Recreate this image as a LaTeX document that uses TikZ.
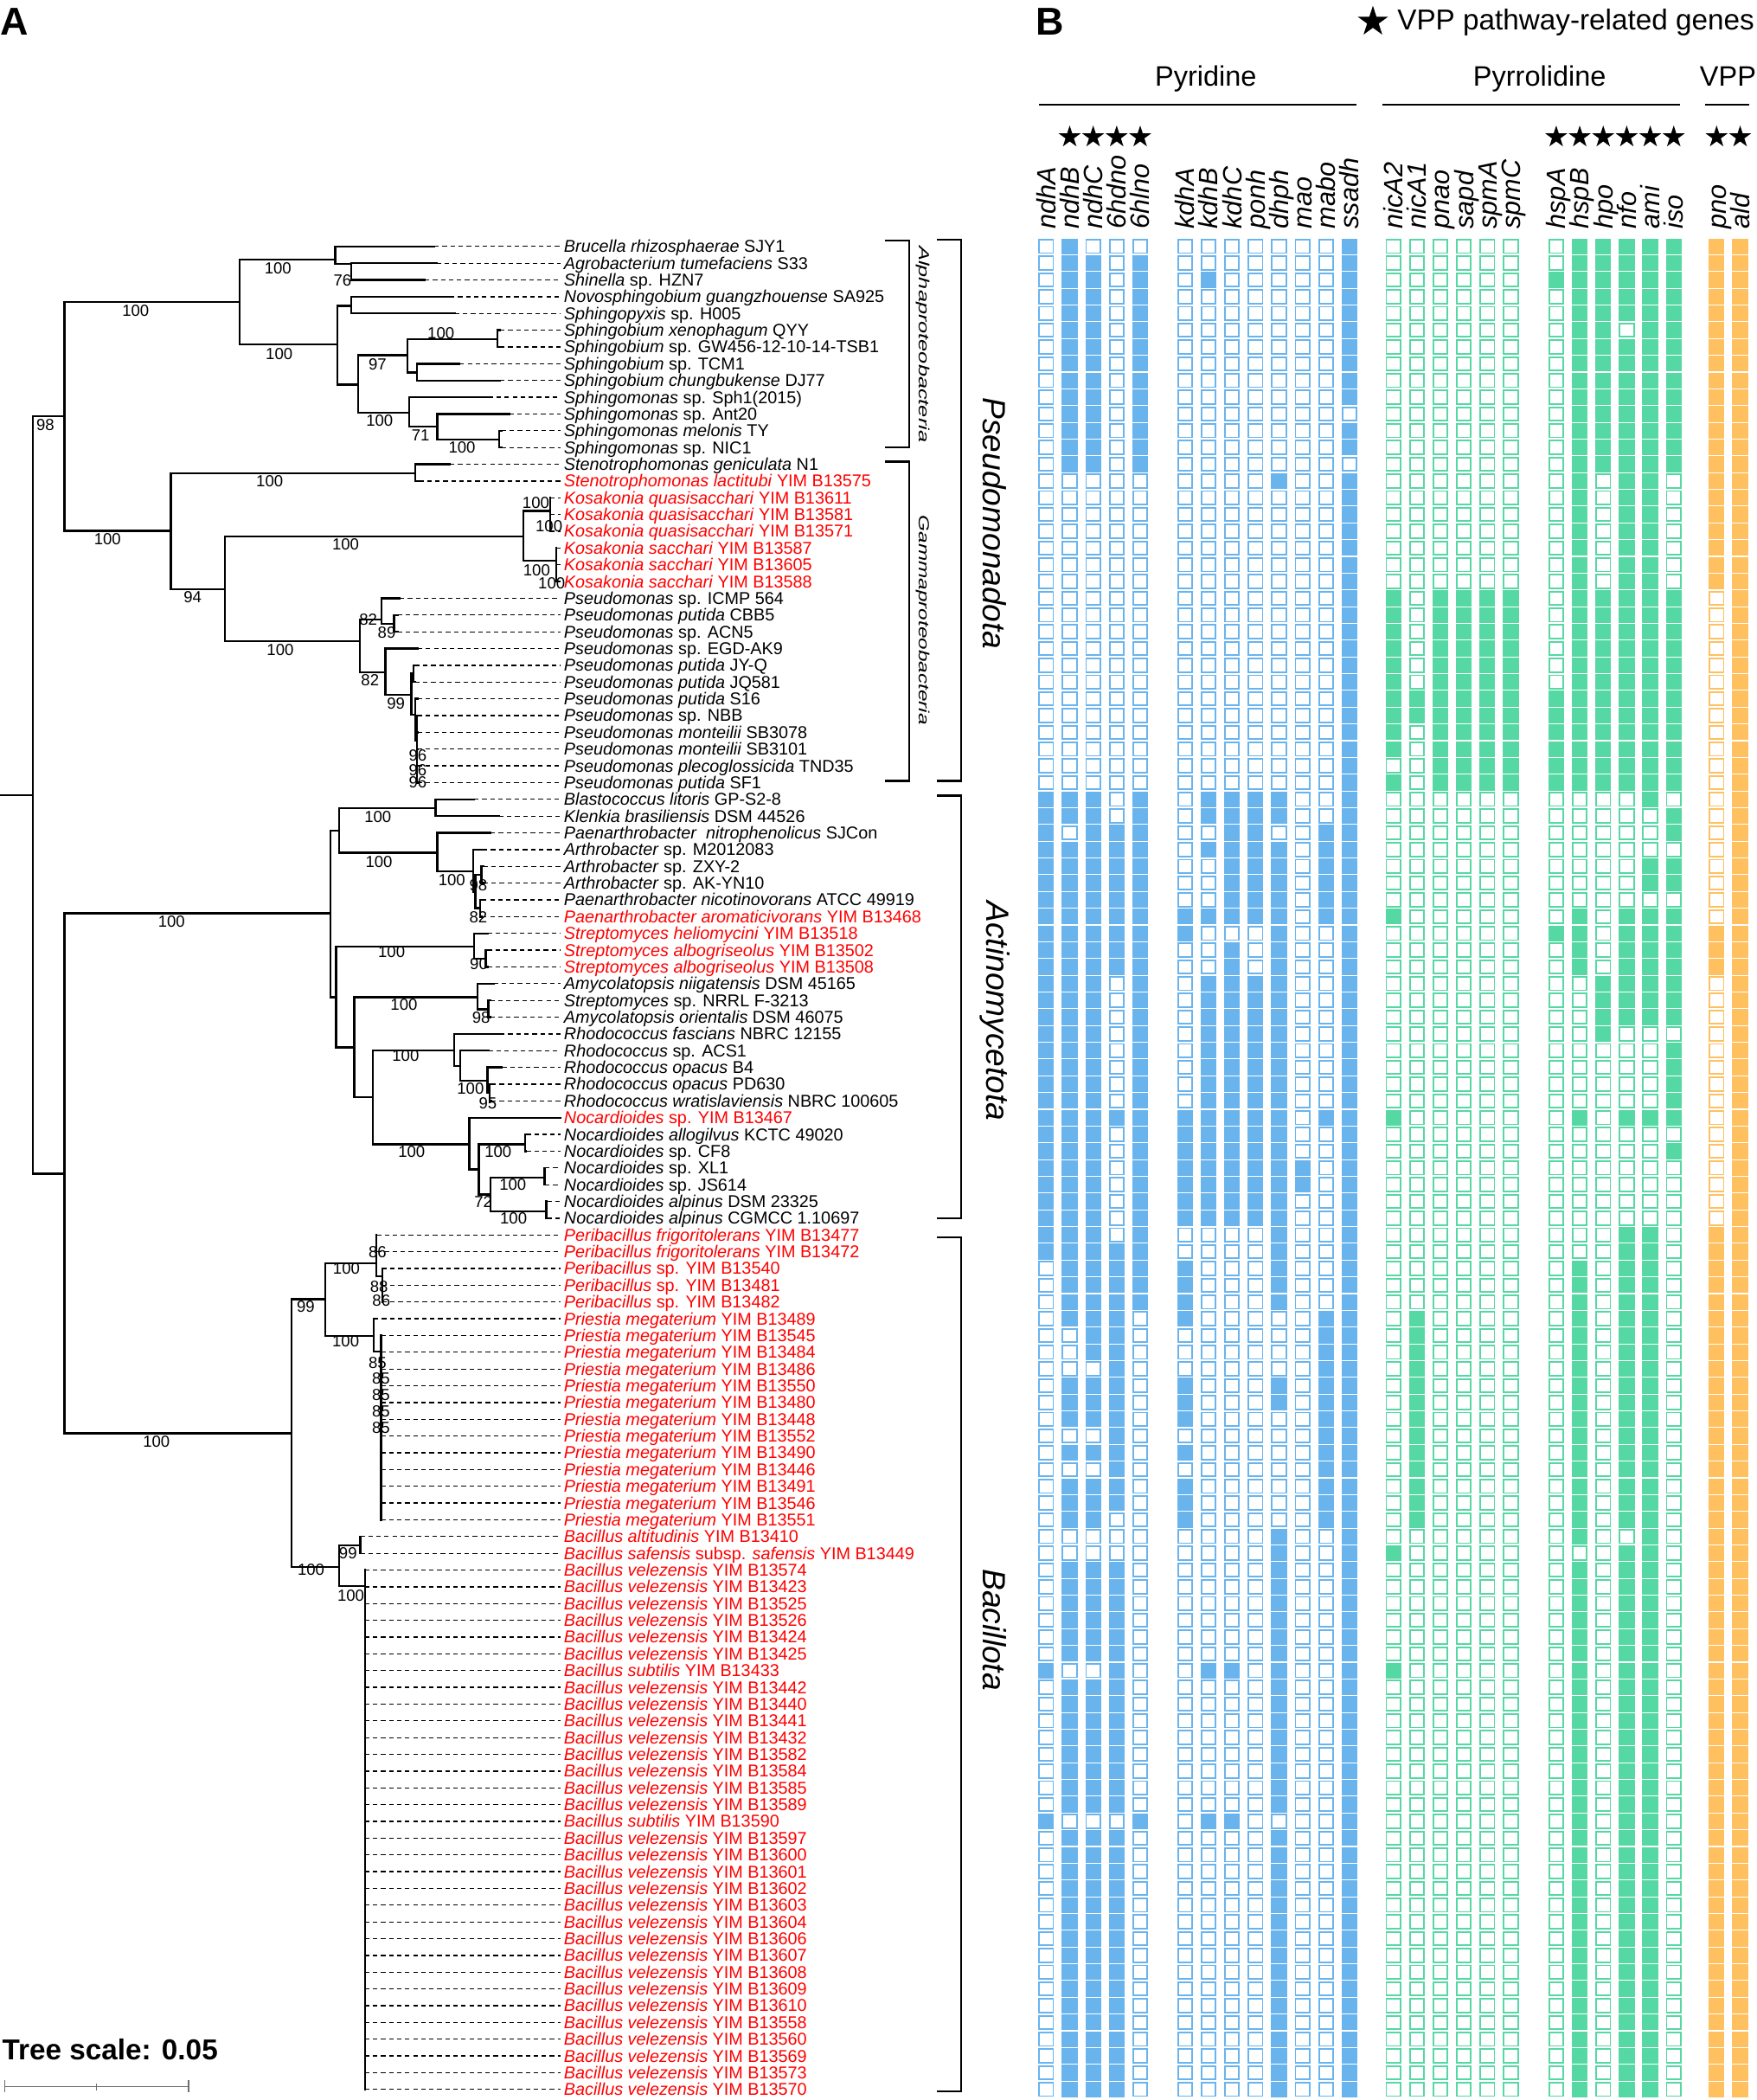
\documentclass[tikz,border=0pt]{standalone}
\usepackage{fontspec}
\setmainfont{Liberation Sans}
\usetikzlibrary{shapes.geometric}
\definecolor{hblue}{RGB}{106,180,238}
\definecolor{hgreen}{RGB}{86,216,164}
\definecolor{horange}{RGB}{255,192,96}
\definecolor{tred}{RGB}{255,0,0}
\definecolor{sgray}{RGB}{110,110,110}
\newcommand\RowY[1]{{184+(#1-1)*12.51}}
\newcommand\inode[5]{\draw[br] (#5,#4) -- (#1,#4); \draw[br] (#1,#2) -- (#1,#3);}
\newcommand\leaf[3]{\draw[br] (#2,\RowY{#1}) -- (#3,\RowY{#1}); \draw[dsh] (#3,\RowY{#1}) -- (418.5,\RowY{#1});}
\newcommand\tx[3][black]{\node[taxon,text=#1] (t#2) at (421,{184+(#2-1)*12.51+4.5}) {#3};}
\newcommand\hmcol[3]{%
  \foreach \rw in {1,...,111}{\draw[draw=#2,line width=1.2pt,fill=white] ({#1-5.3},{184+(\rw-1)*12.51-5.0}) rectangle ({#1+5.3},{184+(\rw-1)*12.51+5.0});}%
  \foreach \ra/\rb in {#3}{\foreach \rw in {\ra,...,\rb}{\fill[#2] ({#1-5.9},{184+(\rw-1)*12.51-5.9}) rectangle ({#1+5.9},{184+(\rw-1)*12.51+5.9});}}%
}
\begin{document}
\begin{tikzpicture}[x=1pt,y=-1pt,
  br/.style={line width=1.5pt,line cap=rect},
  dsh/.style={line width=0.8pt,dash pattern=on 3.4pt off 2.6pt},
  taxon/.style={anchor=base west,inner sep=0pt,font=\fontsize{12.8}{14}\selectfont},
  boot/.style={inner sep=0pt,font=\fontsize{12}{13}\selectfont},
  gene/.style={rotate=90,anchor=base west,inner sep=0pt,font=\fontsize{19.8}{20}\selectfont\itshape},
  hdr/.style={inner sep=0pt,font=\fontsize{21}{22}\selectfont},
  vstar/.style={star,star points=5,star point ratio=2.618,fill=black,draw=none,inner sep=0pt,minimum size=17.2pt},
  brk/.style={line width=1.4pt},
  grp/.style={line width=1.2pt},
  clade/.style={rotate=-90,inner sep=0pt,font=\fontsize{11}{11}\selectfont\itshape},
  phylum/.style={rotate=-90,inner sep=0pt,font=\fontsize{24}{24}\selectfont\itshape}]
\useasboundingbox (0,0) rectangle (1312,1568);

% ---------------- panel labels
\node[anchor=base west,inner sep=0pt,font=\fontsize{29}{30}\selectfont\bfseries] (pA) at (0,26) {A};
\node[anchor=base west,inner sep=0pt,font=\fontsize{29}{30}\selectfont\bfseries] (pB) at (773.5,26) {B};

% ---------------- tree
\draw[br] (0,593.6) -- (24.5,593.6);
\draw[br] (24.5,310.7) -- (24.5,876.4);
\inode{48.2}{225.6}{396.3}{310.7}{24.5}
\inode{178.8}{193.8}{257.1}{225.6}{48.2}
\inode{250.3}{184}{197.1}{193.8}{178.8}
\inode{262.4}{197.1}{209.02}{197.1}{250.3}
\inode{251.8}{228.3}{287.1}{257.1}{178.8}
\inode{262.4}{221.53}{234.04}{228.3}{251.8}
\inode{267.6}{265.3}{308.0}{287.1}{251.8}
\inode{304.3}{253.1}{278.1}{265.3}{267.6}
\inode{371.4}{246.55}{259.06}{253.1}{304.3}
\inode{311.5}{271.57}{284.08}{278.1}{304.3}
\inode{305.7}{296.59}{318.3}{308.0}{267.6}
\inode{326.5}{309.1}{328.4}{318.3}{305.7}
\inode{372.9}{321.61}{334.12}{328.4}{326.5}
\inode{127.5}{353.4}{439.9}{396.3}{48.2}
\inode{310}{346.63}{359.14}{353.4}{127.5}
\inode{168.1}{400.4}{478.7}{439.9}{127.5}
\inode{390.8}{381.4}{418.6}{400.4}{168.1}
\inode{411}{371.65}{396.67}{381.4}{390.8}
\inode{415.3}{409.18}{434.2}{418.6}{390.8}
\inode{268.8}{462.4}{501.8}{478.7}{168.1}
\inode{284.9}{446.71}{465.7}{462.4}{268.8}
\inode{294.2}{459.22}{471.73}{465.7}{284.9}
\inode{287.8}{484.24}{518.7}{501.8}{268.8}
\inode{307.1}{503.0}{533.7}{518.7}{287.8}
\inode{308.6}{496.75}{509.26}{503.0}{307.1}
\inode{310}{521.77}{553}{533.7}{307.1}
\inode{311.5}{534.28}{584.32}{553}{310}
\inode{48.2}{682}{1070.2}{876.4}{24.5}
\inode{246.6}{620.2}{744.6}{682}{48.2}
\inode{253.2}{603.4}{636.7}{620.2}{246.6}
\inode{325.3}{596.83}{609.34}{603.4}{253.2}
\inode{326.5}{621.85}{650.7}{636.7}{253.2}
\inode{353.3}{634.36}{666}{650.7}{326.5}
\inode{355}{653.1}{678.1}{666}{353.3}
\inode{359.6}{646.87}{659.38}{653.1}{355}
\inode{358.5}{671.89}{684.4}{678.1}{355}
\inode{250.9}{706.9}{782.1}{744.6}{246.6}
\inode{354.1}{696.91}{716}{706.9}{250.9}
\inode{362.8}{709.42}{721.93}{716}{354.1}
\inode{264.5}{744.6}{819.3}{782.1}{250.9}
\inode{356.7}{734.44}{753.6}{744.6}{264.5}
\inode{364.8}{746.95}{759.46}{753.6}{356.7}
\inode{278.3}{784.2}{854.4}{819.3}{264.5}
\inode{339.1}{771.97}{796.1}{784.2}{278.3}
\inode{343.8}{784.48}{806.9}{796.1}{339.1}
\inode{364}{796.99}{816.1}{806.9}{343.8}
\inode{365.7}{809.5}{822.01}{816.1}{364}
\inode{350.4}{834.52}{873.2}{854.4}{278.3}
\inode{357.6}{854.4}{891.8}{873.2}{350.4}
\inode{392.2}{847.03}{859.54}{854.4}{357.6}
\inode{366.2}{879.2}{904.4}{891.8}{357.6}
\inode{406.6}{872.05}{884.56}{879.2}{366.2}
\inode{408}{897.07}{909.58}{904.4}{366.2}
\inode{217.7}{970}{1170}{1070.2}{48.2}
\inode{243.1}{943.3}{997.5}{970}{217.7}
\inode{281.2}{922.09}{953}{943.3}{243.1}
\inode{285.5}{947.11}{972.13}{953}{281.2}
\inode{279.2}{984.64}{1009.3}{997.5}{243.1}
\inode{284.6}{997.15}{1134.76}{1009.3}{279.2}
\inode{253.2}{1154}{1184.4}{1170}{217.7}
\inode{269}{1147.27}{1159.78}{1154}{253.2}
\inode{272.5}{1172.29}{1560.1}{1184.4}{253.2}

% leaves
\leaf{1}{250.3}{324.4}
\leaf{2}{262.4}{325.9}
\leaf{3}{262.4}{317.2}
\leaf{4}{262.4}{336}
\leaf{5}{262.4}{339.7}
\leaf{6}{371.4}{373.5}
\leaf{7}{371.4}{373.5}
\leaf{8}{311.5}{343.2}
\leaf{9}{311.5}{373.5}
\leaf{10}{305.7}{364.8}
\leaf{11}{326.5}{380.1}
\leaf{12}{372.9}{374.5}
\leaf{13}{372.9}{374.5}
\leaf{14}{310}{336}
\leaf{15}{310}{313}
\foreach \i in {16,17,18} {\leaf{\i}{411}{411}}
\foreach \i in {19,20,21} {\leaf{\i}{415.3}{415.3}}
\leaf{22}{284.9}{298.5}
\leaf{23}{294.2}{297}
\leaf{24}{294.2}{297}
\leaf{25}{287.8}{312}
\leaf{26}{308.6}{310}
\leaf{27}{308.6}{310}
\leaf{28}{310}{312}
\foreach \i in {29,...,33} {\leaf{\i}{311.5}{312}}
\leaf{34}{325.3}{354.1}
\leaf{35}{325.3}{372.6}
\leaf{36}{326.5}{366.3}
\leaf{37}{353.3}{360.5}
\leaf{38}{359.6}{361}
\leaf{39}{359.6}{361}
\leaf{40}{358.5}{360}
\leaf{41}{358.5}{360}
\leaf{42}{354.1}{364}
\leaf{43}{362.8}{364}
\leaf{44}{362.8}{364}
\leaf{45}{356.7}{368.6}
\leaf{46}{364.8}{366}
\leaf{47}{364.8}{366}
\leaf{48}{339.1}{373.5}
\leaf{49}{343.8}{364.8}
\leaf{50}{364}{374.9}
\leaf{51}{365.7}{367}
\leaf{52}{365.7}{367}
\leaf{53}{350.4}{418.5}
\leaf{54}{392.2}{393}
\leaf{55}{392.2}{393}
\leaf{56}{406.6}{407}
\leaf{57}{406.6}{407}
\leaf{58}{408}{408.5}
\leaf{59}{408}{408.5}
\leaf{60}{281.2}{281.2}
\leaf{61}{281.2}{281.2}
\foreach \i in {62,63,64} {\leaf{\i}{285.5}{285.5}}
\leaf{65}{279.2}{279.2}
\foreach \i in {66,...,77} {\leaf{\i}{284.6}{284.6}}
\leaf{78}{269}{269}
\leaf{79}{269}{269}
\foreach \i in {80,...,111} {\leaf{\i}{272.5}{272.5}}

% bootstrap values
\foreach \bx/\by/\bt [count=\n] in {33.9/317.4/98, 101.3/232.3/100, 207.6/200.5/100, 255.8/209.4/76, 208.5/264.5/100,
  329.3/248.6/100, 281.9/272.0/97, 283.5/313.9/100, 314.1/325.1/71, 345.0/334.0/100, 201.4/359.0/100,
  80.3/402.5/100, 258.1/406.5/100, 143.8/446.0/94, 400.2/375.5/100, 410.0/392.8/100, 400.8/425.5/100,
  412.0/435.4/100, 275.0/462.5/82, 288.8/472.6/89, 209.3/485.3/100, 276.4/507.8/82, 295.7/525.4/99,
  312/564.2/96, 312/574.8/96, 312/584.2/96, 282.2/609.8/100, 283.0/643.3/100, 337.4/657.2/100,
  357.2/660.7/98, 128.1/688.4/100, 357.2/684.8/82, 292.4/710.8/100, 357.6/719.7/90, 301.7/750.4/100,
  359.3/759.8/98, 302.9/788.3/100, 351.4/813.0/100, 364.3/823.6/95, 307.4/860.2/100, 372.0/860.2/100,
  383.0/884.2/100, 360.9/897.7/72, 383.5/909.8/100, 281.9/934.8/86, 258.7/946.9/100, 228.3/975.3/99,
  283.1/960.6/88, 284.8/970.8/86, 258.2/1001.5/100, 282.0/1017.5/85, 284.5/1029.2/85, 284.5/1041.7/85,
  284.5/1053.6/85, 284.5/1066.3/85, 116.8/1076.5/100, 259.9/1159.6/99, 232.3/1171.8/100, 262.0/1191.7/100}
  {\node[boot] (bs\n) at (\bx,\by) {\bt};}

% ---------------- taxa
\tx{1}{\textit{Brucella rhizosphaerae} SJY1}
\tx{2}{\textit{Agrobacterium tumefaciens} S33}
\tx{3}{\textit{Shinella} sp. HZN7}
\tx{4}{\textit{Novosphingobium guangzhouense} SA925}
\tx{5}{\textit{Sphingopyxis} sp. H005}
\tx{6}{\textit{Sphingobium xenophagum} QYY}
\tx{7}{\textit{Sphingobium} sp. GW456-12-10-14-TSB1}
\tx{8}{\textit{Sphingobium} sp. TCM1}
\tx{9}{\textit{Sphingobium chungbukense} DJ77}
\tx{10}{\textit{Sphingomonas} sp. Sph1(2015)}
\tx{11}{\textit{Sphingomonas} sp. Ant20}
\tx{12}{\textit{Sphingomonas melonis} TY}
\tx{13}{\textit{Sphingomonas} sp. NIC1}
\tx{14}{\textit{Stenotrophomonas geniculata} N1}
\tx[tred]{15}{\textit{Stenotrophomonas lactitubi} YIM B13575}
\tx[tred]{16}{\textit{Kosakonia quasisacchari} YIM B13611}
\tx[tred]{17}{\textit{Kosakonia quasisacchari} YIM B13581}
\tx[tred]{18}{\textit{Kosakonia quasisacchari} YIM B13571}
\tx[tred]{19}{\textit{Kosakonia sacchari} YIM B13587}
\tx[tred]{20}{\textit{Kosakonia sacchari} YIM B13605}
\tx[tred]{21}{\textit{Kosakonia sacchari} YIM B13588}
\tx{22}{\textit{Pseudomonas} sp. ICMP 564}
\tx{23}{\textit{Pseudomonas putida} CBB5}
\tx{24}{\textit{Pseudomonas} sp. ACN5}
\tx{25}{\textit{Pseudomonas} sp. EGD-AK9}
\tx{26}{\textit{Pseudomonas putida} JY-Q}
\tx{27}{\textit{Pseudomonas putida} JQ581}
\tx{28}{\textit{Pseudomonas putida} S16}
\tx{29}{\textit{Pseudomonas} sp. NBB}
\tx{30}{\textit{Pseudomonas monteilii} SB3078}
\tx{31}{\textit{Pseudomonas monteilii} SB3101}
\tx{32}{\textit{Pseudomonas plecoglossicida} TND35}
\tx{33}{\textit{Pseudomonas putida} SF1}
\tx{34}{\textit{Blastococcus litoris} GP-S2-8}
\tx{35}{\textit{Klenkia brasiliensis} DSM 44526}
\tx{36}{\textit{Paenarthrobacter~ nitrophenolicus} SJCon}
\tx{37}{\textit{Arthrobacter} sp. M2012083}
\tx{38}{\textit{Arthrobacter} sp. ZXY-2}
\tx{39}{\textit{Arthrobacter} sp. AK-YN10}
\tx{40}{\textit{Paenarthrobacter nicotinovorans} ATCC 49919}
\tx[tred]{41}{\textit{Paenarthrobacter aromaticivorans} YIM B13468}
\tx[tred]{42}{\textit{Streptomyces heliomycini} YIM B13518}
\tx[tred]{43}{\textit{Streptomyces albogriseolus} YIM B13502}
\tx[tred]{44}{\textit{Streptomyces albogriseolus} YIM B13508}
\tx{45}{\textit{Amycolatopsis niigatensis} DSM 45165}
\tx{46}{\textit{Streptomyces} sp. NRRL F-3213}
\tx{47}{\textit{Amycolatopsis orientalis} DSM 46075}
\tx{48}{\textit{Rhodococcus fascians} NBRC 12155}
\tx{49}{\textit{Rhodococcus} sp. ACS1}
\tx{50}{\textit{Rhodococcus opacus} B4}
\tx{51}{\textit{Rhodococcus opacus} PD630}
\tx{52}{\textit{Rhodococcus wratislaviensis} NBRC 100605}
\tx[tred]{53}{\textit{Nocardioides} sp. YIM B13467}
\tx{54}{\textit{Nocardioides allogilvus} KCTC 49020}
\tx{55}{\textit{Nocardioides} sp. CF8}
\tx{56}{\textit{Nocardioides} sp. XL1}
\tx{57}{\textit{Nocardioides} sp. JS614}
\tx{58}{\textit{Nocardioides alpinus} DSM 23325}
\tx{59}{\textit{Nocardioides alpinus} CGMCC 1.10697}
\tx[tred]{60}{\textit{Peribacillus frigoritolerans} YIM B13477}
\tx[tred]{61}{\textit{Peribacillus frigoritolerans} YIM B13472}
\tx[tred]{62}{\textit{Peribacillus} sp. YIM B13540}
\tx[tred]{63}{\textit{Peribacillus} sp. YIM B13481}
\tx[tred]{64}{\textit{Peribacillus} sp. YIM B13482}
\foreach \s [count=\k from 65] in {B13489,B13545,B13484,B13486,B13550,B13480,B13448,B13552,B13490,B13446,B13491,B13546,B13551}
  {\tx[tred]{\k}{\textit{Priestia megaterium} YIM \s}}
\tx[tred]{78}{\textit{Bacillus altitudinis} YIM B13410}
\tx[tred]{79}{\textit{Bacillus safensis} subsp. \textit{safensis} YIM B13449}
\foreach \sp/\s [count=\k from 80] in {velezensis/B13574, velezensis/B13423, velezensis/B13525, velezensis/B13526,
  velezensis/B13424, velezensis/B13425, subtilis/B13433, velezensis/B13442, velezensis/B13440, velezensis/B13441,
  velezensis/B13432, velezensis/B13582, velezensis/B13584, velezensis/B13585, velezensis/B13589, subtilis/B13590,
  velezensis/B13597, velezensis/B13600, velezensis/B13601, velezensis/B13602, velezensis/B13603, velezensis/B13604,
  velezensis/B13606, velezensis/B13607, velezensis/B13608, velezensis/B13609, velezensis/B13610, velezensis/B13558,
  velezensis/B13560, velezensis/B13569, velezensis/B13573, velezensis/B13570}
  {\tx[tred]{\k}{\textit{Bacillus \sp} YIM \s}}

% ---------------- clade brackets and labels
\draw[brk] (661.1,179.7) -- (678.8,179.7) -- (678.8,333.8) -- (661.1,333.8);
\draw[brk] (661.1,344.7) -- (678.8,344.7) -- (678.8,583.1) -- (661.1,583.1);
\draw[brk] (699.8,178.8) -- (717.5,178.8) -- (717.5,583.1) -- (699.8,583.1);
\draw[brk] (699.8,594) -- (717.5,594) -- (717.5,909.4) -- (699.8,909.4);
\draw[brk] (699.8,923.9) -- (717.5,923.9) -- (717.5,1561.4) -- (699.8,1561.4);
\node[clade] (calpha) at (689.5,257) {\scalebox{1.49}[1]{Alphaproteobacteria}};
\node[clade] (cgamma) at (689.3,463) {\scalebox{1.43}[1]{Gammaproteobacteria}};
\node[phylum] (cpseudo) at (743,390.9) {Pseudomonadota};
\node[phylum] (cact) at (743,754.9) {Actinomycetota};
\node[phylum] (cbac) at (743,1217) {Bacillota};

% ---------------- tree scale
\node[anchor=base west,inner sep=0pt,font=\fontsize{21.5}{22}\selectfont\bfseries] (tscale) at (1.5,1538) {Tree scale: 0.05};
\draw[sgray,line width=1pt] (3.5,1558) -- (140.7,1558);
\draw[sgray,line width=1pt] (3.5,1553) -- (3.5,1562);
\draw[sgray,line width=1pt] (72.1,1556) -- (72.1,1561);
\draw[sgray,line width=1pt] (140.7,1553) -- (140.7,1562);

% ---------------- heatmap header
\node[vstar,minimum size=23.8pt] (lstar) at (1025.3,16.2) {};
\node[hdr,anchor=base west,font=\fontsize{21.5}{22}\selectfont] (legend) at (1043.4,22.6) {VPP pathway-related genes};
\node[hdr,anchor=base] (hpyr) at (900.5,64.6) {Pyridine};
\node[hdr,anchor=base] (hpyl) at (1149.8,64.6) {Pyrrolidine};
\node[hdr,anchor=base] (hvpp) at (1290.5,64.6) {VPP};
\draw[grp] (775.6,78) -- (1013.2,78);
\draw[grp] (1032.2,78) -- (1254.5,78);
\draw[grp] (1273.4,78) -- (1306.2,78);
\foreach \k in {1,...,4} {\node[vstar] (sa\k) at ({781.3+\k*17.55},102.3) {};}
\foreach \k in {0,...,5} {\node[vstar] (sb\k) at ({1162.2+\k*17.55},102.3) {};}
\foreach \k in {0,1} {\node[vstar] (sc\k) at ({1282.0+\k*17.55},102.3) {};}
\foreach \g [count=\k from 0] in {ndhA,ndhB,ndhC,6hdno,6hlno} {\node[gene] (ga\k) at ({781.3+\k*17.55+7},171) {\g};}
\foreach \g [count=\k from 0] in {kdhA,kdhB,kdhC,ponh,dhph,mao,mabo,ssadh} {\node[gene] (gb\k) at ({885.0+\k*17.55+7},171) {\g};}
\foreach \g [count=\k from 0] in {nicA2,nicA1,pnao,sapd,spmA,spmC} {\node[gene] (gc\k) at ({1040.6+\k*17.55+7},171) {\g};}
\foreach \g [count=\k from 0] in {hspA,hspB,hpo,nfo,ami,iso} {\node[gene] (gd\k) at ({1162.2+\k*17.55+7},171) {\g};}
\foreach \g [count=\k from 0] in {pno,ald} {\node[gene] (ge\k) at ({1282.0+\k*17.55+7},171) {\g};}

% ---------------- heatmap
\hmcol{781.3}{hblue}{34/61,86/86,95/95}
\hmcol{798.85}{hblue}{1/14,34/35,37/65,69/71,73/73,75/77,80/85,87/94,96/111}
\hmcol{816.4}{hblue}{2/14,34/67,69/71,73/73,75/77,80/85,87/94,96/111}
\hmcol{833.95}{hblue}{36/44,53/53,61/76,80/94,96/111}
\hmcol{851.5}{hblue}{2/14,34/64,95/95}
\hmcol{885.0}{hblue}{41/42,53/59,62/65,69/71,73/73,75/77}
\hmcol{902.55}{hblue}{3/3,34/35,37/37,41/41,45/59,86/86,95/95}
\hmcol{920.1}{hblue}{34/41,43/59,86/86,95/95}
\hmcol{937.65}{hblue}{34/41,45/59}
\hmcol{955.2}{hblue}{15/15,34/35,37/64,69/70,78/94,96/111}
\hmcol{972.75}{hblue}{56/57}
\hmcol{990.3}{hblue}{36/41,53/53,65/77}
\hmcol{1007.85}{hblue}{1/10,12/13,15/111}
\hmcol{1040.6}{hgreen}{22/31,33/33,41/41,53/53,79/79,86/86}
\hmcol{1058.15}{hgreen}{28/29,65/77}
\hmcol{1075.7}{hgreen}{22/33}
\hmcol{1093.25}{hgreen}{22/33}
\hmcol{1110.8}{hgreen}{22/33}
\hmcol{1128.35}{hgreen}{22/33}
\hmcol{1162.2}{hgreen}{3/3,28/33,42/42}
\hmcol{1179.75}{hgreen}{1/33,41/44,53/53,62/78,80/111}
\hmcol{1197.3}{hgreen}{1/14,22/33,45/48}
\hmcol{1214.85}{hgreen}{1/5,7/33,41/47,53/53,60/77,79/111}
\hmcol{1232.4}{hgreen}{1/34,38/39,41/47,53/53,60/111}
\hmcol{1249.95}{hgreen}{1/14,22/33,35/36,38/39,41/47,49/53,55/55}
\hmcol{1282.0}{horange}{1/21,42/44,60/111}
\hmcol{1299.55}{horange}{1/111}
\end{tikzpicture}
\end{document}
